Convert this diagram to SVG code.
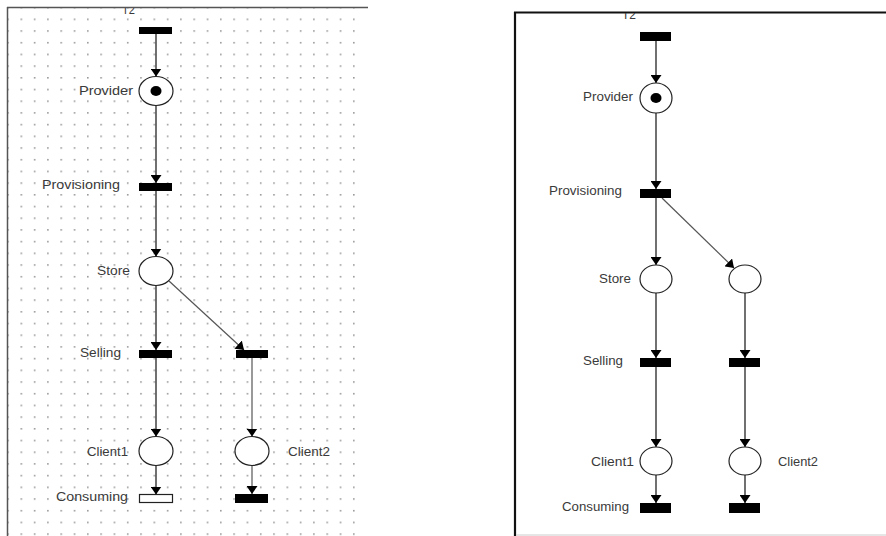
<svg xmlns="http://www.w3.org/2000/svg" width="886" height="536" viewBox="0 0 886 536">
  <defs>
    <style>
      .frameL { stroke: #555; stroke-width: 1.5; fill: none; }
      .frameR { stroke: #111; stroke-width: 2.2; fill: none; }
      .arc { stroke: #111; stroke-width: 1.2; fill: none; marker-end: url(#head); }
      .arc-grey { stroke: #555; stroke-width: 1.2; fill: none; marker-end: url(#head); }
      .trans { fill: #000; }
      .trans-empty { fill: #fff; stroke: #222; stroke-width: 1.2; }
      .place { fill: #fff; stroke: #222; stroke-width: 1.2; }
      .token { fill: #000; }
      .lbl { font-family: "Liberation Sans", Arial, sans-serif; font-size: 12px; fill: #3a3a3a; }
      .end { text-anchor: end; }
    </style>
    <marker id="head" viewBox="0 0 8 11" markerWidth="8" markerHeight="11" refX="8" refY="5.5" orient="auto" markerUnits="userSpaceOnUse">
      <path d="M0,0 L8,5.5 L0,11 Z" fill="#000"/>
    </marker>
    <pattern id="dots" x="20.5" y="18.5" width="13.3" height="11.7" patternUnits="userSpaceOnUse">
      <rect x="0" y="0" width="1.6" height="1.6" fill="#9a9a9a"/>
    </pattern>
    <clipPath id="clipL"><rect x="8" y="8" width="360" height="528"/></clipPath>
    <clipPath id="clipR"><rect x="516" y="13" width="370" height="523"/></clipPath>
  </defs>

  <rect width="886" height="536" fill="#fff"/>

  <!-- left panel: editor canvas with dot grid -->
  <g id="panel-left">
    <rect x="8" y="8" width="358" height="528" fill="url(#dots)"/>
    <line class="frameL" x1="7.5" y1="7" x2="7.5" y2="536"/>
    <line class="frameL" x1="7" y1="7.5" x2="368" y2="7.5"/>
  </g>

  <!-- right panel frame -->
  <g id="panel-right">
    <line class="frameR" x1="515" y1="12" x2="515" y2="536"/>
    <line class="frameR" x1="514" y1="12.5" x2="886" y2="12.5"/>
    <line x1="516" y1="535" x2="886" y2="535" stroke="#ccc" stroke-width="1"/>
  </g>

  <!-- connectors -->
  <g id="connectors">
    <!-- left net -->
    <line class="arc" x1="156" y1="34" x2="156" y2="76.5"/>
    <line class="arc" x1="156" y1="105.5" x2="156" y2="183"/>
    <line class="arc" x1="156" y1="191" x2="156" y2="256.5"/>
    <line class="arc-grey" x1="169" y1="281" x2="244" y2="350"/>
    <line class="arc" x1="156" y1="285.5" x2="156" y2="350"/>
    <line class="arc" x1="156" y1="358" x2="156" y2="436.5"/>
    <line class="arc-grey" x1="252" y1="358" x2="252" y2="436.5"/>
    <line class="arc" x1="156" y1="465.5" x2="156" y2="494.5"/>
    <line class="arc-grey" x1="252" y1="465.5" x2="252" y2="494"/>
    <!-- right net -->
    <line class="arc" x1="656" y1="41" x2="656" y2="83"/>
    <line class="arc" x1="656" y1="113" x2="656" y2="189"/>
    <line class="arc" x1="656" y1="198" x2="656" y2="265"/>
    <line class="arc-grey" x1="662" y1="198" x2="734" y2="268"/>
    <line class="arc" x1="656" y1="293" x2="656" y2="358"/>
    <line class="arc" x1="745" y1="293" x2="745" y2="358"/>
    <line class="arc" x1="656" y1="367" x2="656" y2="447"/>
    <line class="arc" x1="745" y1="367" x2="745" y2="447"/>
    <line class="arc" x1="656" y1="475" x2="656" y2="503"/>
    <line class="arc" x1="745" y1="475" x2="745" y2="503"/>
  </g>

  <!-- left net nodes -->
  <g id="L-T2">
    <rect class="trans" x="139" y="27" width="33" height="7"/>
    <text class="lbl" x="122" y="14" textLength="13" lengthAdjust="spacingAndGlyphs" clip-path="url(#clipL)">T2</text>
  </g>
  <g id="L-Provider">
    <ellipse class="place" cx="156" cy="91" rx="17" ry="14.5"/>
    <ellipse class="token" cx="156" cy="91" rx="5.5" ry="5"/>
    <text class="lbl end" x="133" y="95" textLength="54" lengthAdjust="spacingAndGlyphs">Provider</text>
  </g>
  <g id="L-Provisioning">
    <rect class="trans" x="139" y="183" width="33" height="8"/>
    <text class="lbl end" x="120" y="189" textLength="78" lengthAdjust="spacingAndGlyphs">Provisioning</text>
  </g>
  <g id="L-Store">
    <ellipse class="place" cx="156" cy="271" rx="17" ry="14.5"/>
    <text class="lbl end" x="130" y="275" textLength="33" lengthAdjust="spacingAndGlyphs">Store</text>
  </g>
  <g id="L-Selling">
    <rect class="trans" x="139" y="350" width="33" height="8"/>
    <text class="lbl end" x="121" y="357" textLength="41" lengthAdjust="spacingAndGlyphs">Selling</text>
  </g>
  <g id="L-Selling2">
    <rect class="trans" x="236" y="350" width="32" height="8"/>
  </g>
  <g id="L-Client1">
    <ellipse class="place" cx="156" cy="451" rx="17" ry="14.5"/>
    <text class="lbl end" x="128" y="456" textLength="41" lengthAdjust="spacingAndGlyphs">Client1</text>
  </g>
  <g id="L-Client2">
    <ellipse class="place" cx="252" cy="451" rx="17" ry="14.5"/>
    <text class="lbl" x="288" y="456" textLength="42" lengthAdjust="spacingAndGlyphs">Client2</text>
  </g>
  <g id="L-Consuming">
    <rect class="trans-empty" x="139.5" y="494.5" width="33" height="8"/>
    <text class="lbl end" x="128" y="501" textLength="72" lengthAdjust="spacingAndGlyphs">Consuming</text>
  </g>
  <g id="L-Consuming2">
    <rect class="trans" x="235" y="494" width="33" height="9"/>
  </g>

  <!-- right net nodes -->
  <g id="R-T2">
    <rect class="trans" x="640" y="32" width="31" height="9"/>
    <text class="lbl" x="622" y="19" textLength="14" lengthAdjust="spacingAndGlyphs" clip-path="url(#clipR)">T2</text>
  </g>
  <g id="R-Provider">
    <ellipse class="place" cx="656" cy="98" rx="16" ry="15"/>
    <ellipse class="token" cx="656" cy="98" rx="5.5" ry="5"/>
    <text class="lbl end" x="633" y="101" textLength="50" lengthAdjust="spacingAndGlyphs">Provider</text>
  </g>
  <g id="R-Provisioning">
    <rect class="trans" x="640" y="189" width="31" height="9"/>
    <text class="lbl end" x="622" y="195" textLength="73" lengthAdjust="spacingAndGlyphs">Provisioning</text>
  </g>
  <g id="R-Store">
    <ellipse class="place" cx="656" cy="279" rx="16" ry="14"/>
    <text class="lbl end" x="631" y="283" textLength="32" lengthAdjust="spacingAndGlyphs">Store</text>
  </g>
  <g id="R-Store2">
    <ellipse class="place" cx="745" cy="279" rx="16" ry="14"/>
  </g>
  <g id="R-Selling">
    <rect class="trans" x="640" y="358" width="31" height="9"/>
    <text class="lbl end" x="623" y="365" textLength="40" lengthAdjust="spacingAndGlyphs">Selling</text>
  </g>
  <g id="R-Selling2">
    <rect class="trans" x="729" y="358" width="31" height="9"/>
  </g>
  <g id="R-Client1">
    <ellipse class="place" cx="656" cy="461" rx="16" ry="14"/>
    <text class="lbl end" x="634" y="466" textLength="43" lengthAdjust="spacingAndGlyphs">Client1</text>
  </g>
  <g id="R-Client2">
    <ellipse class="place" cx="745" cy="461" rx="16" ry="14"/>
    <text class="lbl" x="778" y="466" textLength="40" lengthAdjust="spacingAndGlyphs">Client2</text>
  </g>
  <g id="R-Consuming">
    <rect class="trans" x="640" y="503" width="31" height="10"/>
    <text class="lbl end" x="629" y="511" textLength="67" lengthAdjust="spacingAndGlyphs">Consuming</text>
  </g>
  <g id="R-Consuming2">
    <rect class="trans" x="729" y="503" width="31" height="10"/>
  </g>
</svg>
